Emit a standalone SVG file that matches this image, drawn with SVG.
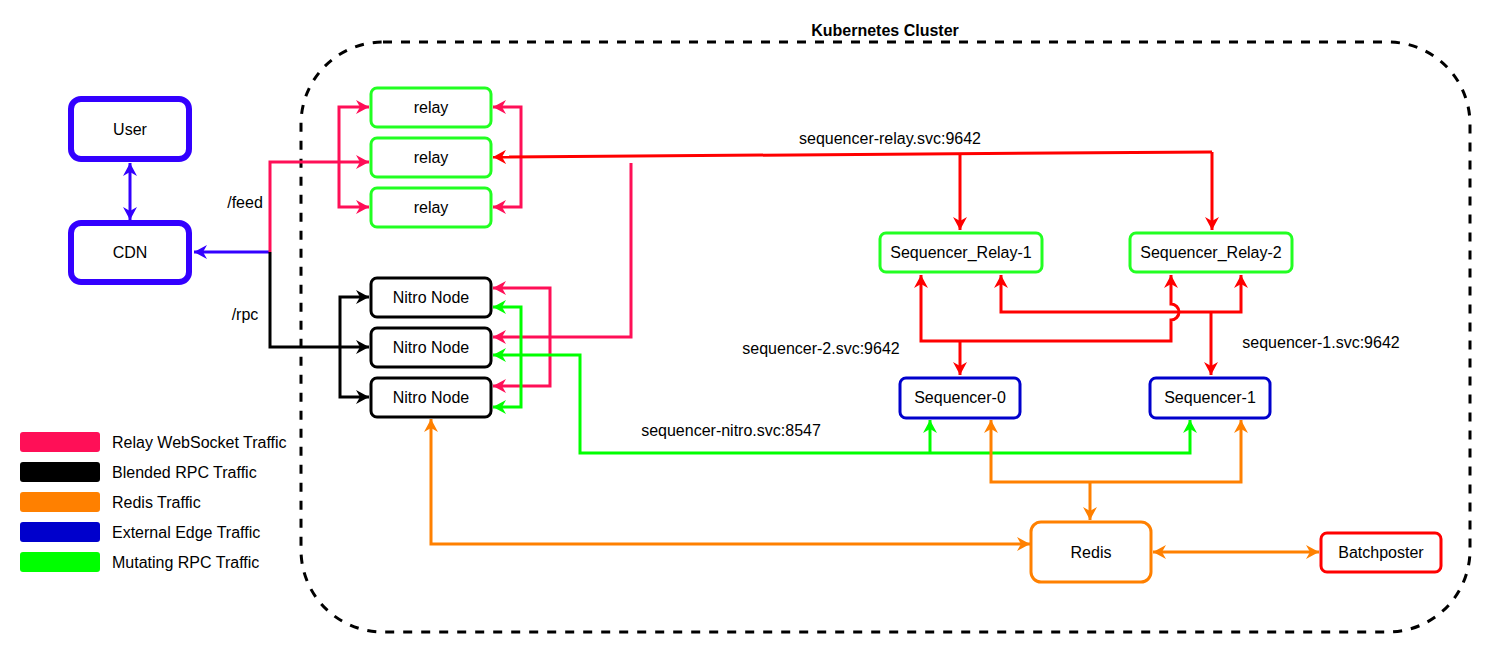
<svg xmlns="http://www.w3.org/2000/svg" width="1492" height="654" viewBox="0 0 1492 654">
<style>
text{font-family:"Liberation Sans",Arial,sans-serif;font-size:16px;fill:#000;text-anchor:middle;dominant-baseline:central}
.l{text-anchor:start}
.b{fill:#fff;stroke-width:3}
.e{fill:none;stroke-width:3;stroke-linejoin:miter}
.pk{stroke:#FF0F57}.rd{stroke:#FF0000}.bk{stroke:#000}.gr{stroke:#00FF00}.or{stroke:#FF8000}.bl{stroke:#3300FF}
</style>
<defs>
<marker id="mpk" viewBox="0 0 13 14" refX="13" refY="7" markerWidth="13" markerHeight="14" markerUnits="userSpaceOnUse" orient="auto-start-reverse"><path d="M0,0 L13,7 L0,14 L4,7 Z" fill="#FF0F57"/></marker>
<marker id="mrd" viewBox="0 0 13 14" refX="13" refY="7" markerWidth="13" markerHeight="14" markerUnits="userSpaceOnUse" orient="auto-start-reverse"><path d="M0,0 L13,7 L0,14 L4,7 Z" fill="#FF0000"/></marker>
<marker id="mbk" viewBox="0 0 13 14" refX="13" refY="7" markerWidth="13" markerHeight="14" markerUnits="userSpaceOnUse" orient="auto-start-reverse"><path d="M0,0 L13,7 L0,14 L4,7 Z" fill="#000"/></marker>
<marker id="mgr" viewBox="0 0 13 14" refX="13" refY="7" markerWidth="13" markerHeight="14" markerUnits="userSpaceOnUse" orient="auto-start-reverse"><path d="M0,0 L13,7 L0,14 L4,7 Z" fill="#00FF00"/></marker>
<marker id="mor" viewBox="0 0 13 14" refX="13" refY="7" markerWidth="13" markerHeight="14" markerUnits="userSpaceOnUse" orient="auto-start-reverse"><path d="M0,0 L13,7 L0,14 L4,7 Z" fill="#FF8000"/></marker>
<marker id="mbl" viewBox="0 0 13 14" refX="13" refY="7" markerWidth="13" markerHeight="14" markerUnits="userSpaceOnUse" orient="auto-start-reverse"><path d="M0,0 L13,7 L0,14 L4,7 Z" fill="#3300FF"/></marker>
</defs>
<rect width="1492" height="654" fill="#fff"/>

<g id="cluster">
<rect x="301" y="42" width="1169" height="590" rx="82" fill="none" stroke="#000" stroke-width="3" stroke-dasharray="9 9"/>
<text x="885" y="30" font-weight="bold">Kubernetes Cluster</text>
</g>

<g id="connectors">
<path class="e bl" d="M130,163 L130,220" marker-start="url(#mbl)" marker-end="url(#mbl)"/>
<path class="e bl" d="M270,252 L194,252" marker-end="url(#mbl)"/>
<path class="e pk" d="M270,252 L270,162 L369,162" marker-end="url(#mpk)"/>
<path class="e pk" d="M339,162 L339,107 L369,107" marker-end="url(#mpk)"/>
<path class="e pk" d="M339,162 L339,207 L369,207" marker-end="url(#mpk)"/>
<path class="e pk" d="M521,157 L521,107 L493,107" marker-end="url(#mpk)"/>
<path class="e pk" d="M521,157 L521,207 L493,207" marker-end="url(#mpk)"/>
<path class="e pk" d="M631,163 L631,337 L493,337" marker-end="url(#mpk)"/>
<path class="e pk" d="M550,337 L550,288 L493,288" marker-end="url(#mpk)"/>
<path class="e pk" d="M550,337 L550,386 L493,386" marker-end="url(#mpk)"/>
<path class="e bk" d="M270,252 L270,347 L369,347" marker-end="url(#mbk)"/>
<path class="e bk" d="M340,347 L340,297 L369,297" marker-end="url(#mbk)"/>
<path class="e bk" d="M340,347 L340,397 L369,397" marker-end="url(#mbk)"/>
<path class="e gr" d="M930,453 L580,453 L580,355 L493,355" marker-end="url(#mgr)"/>
<path class="e gr" d="M521,355 L521,307 L493,307" marker-end="url(#mgr)"/>
<path class="e gr" d="M521,355 L521,407 L493,407" marker-end="url(#mgr)"/>
<path class="e gr" d="M930,453 L930,420" marker-end="url(#mgr)"/>
<path class="e gr" d="M930,453 L1190,453 L1190,420" marker-end="url(#mgr)"/>
<path class="e rd" d="M1212,152 L493,157" marker-end="url(#mrd)"/>
<path class="e rd" d="M1212,152 L1212,230" marker-end="url(#mrd)"/>
<path class="e rd" d="M960,154 L960,230" marker-end="url(#mrd)"/>
<path class="e rd" d="M921,275 L921,341 L1171,341 L1171,320 A8,8 0 0 0 1171,304 L1171,275" marker-start="url(#mrd)" marker-end="url(#mrd)"/>
<path class="e rd" d="M960,341 L960,375" marker-end="url(#mrd)"/>
<path class="e rd" d="M1001,275 L1001,312 L1241,312 L1241,275" marker-start="url(#mrd)" marker-end="url(#mrd)"/>
<path class="e rd" d="M1211,312 L1211,375" marker-end="url(#mrd)"/>
<path class="e or" d="M431,419 L431,544 L1030,544" marker-start="url(#mor)" marker-end="url(#mor)"/>
<path class="e or" d="M991,420 L991,482 L1241,482 L1241,420" marker-start="url(#mor)" marker-end="url(#mor)"/>
<path class="e or" d="M1090,482 L1090,520" marker-end="url(#mor)"/>
<path class="e or" d="M1153,552 L1319,552" marker-start="url(#mor)" marker-end="url(#mor)"/>
<text x="245" y="202">/feed</text>
<text x="245" y="314">/rpc</text>
<text x="890" y="138">sequencer-relay.svc:9642</text>
<text x="821" y="348">sequencer-2.svc:9642</text>
<text x="1321" y="342">sequencer-1.svc:9642</text>
<text x="731" y="430">sequencer-nitro.svc:8547</text>
</g>

<g id="user"><rect x="71" y="99" width="118" height="60" rx="10" fill="#fff" stroke="#3300FF" stroke-width="6"/><text x="130" y="129">User</text></g>
<g id="cdn"><rect x="71" y="223" width="118" height="59" rx="10" fill="#fff" stroke="#3300FF" stroke-width="6"/><text x="130" y="252">CDN</text></g>

<g id="relay1"><rect class="b" x="371" y="88" width="120" height="39" rx="6" stroke="#22FF22"/><text x="431" y="107">relay</text></g>
<g id="relay2"><rect class="b" x="371" y="138" width="120" height="39" rx="6" stroke="#22FF22"/><text x="431" y="157">relay</text></g>
<g id="relay3"><rect class="b" x="371" y="188" width="120" height="39" rx="6" stroke="#22FF22"/><text x="431" y="207">relay</text></g>

<g id="nitro1"><rect class="b" x="371" y="278" width="120" height="39" rx="6" stroke="#000"/><text x="431" y="297">Nitro Node</text></g>
<g id="nitro2"><rect class="b" x="371" y="328" width="120" height="39" rx="6" stroke="#000"/><text x="431" y="347">Nitro Node</text></g>
<g id="nitro3"><rect class="b" x="371" y="378" width="120" height="39" rx="6" stroke="#000"/><text x="431" y="397">Nitro Node</text></g>

<g id="seqrelay1"><rect class="b" x="880" y="233" width="162" height="39" rx="6" stroke="#22FF22"/><text x="961" y="252">Sequencer_Relay-1</text></g>
<g id="seqrelay2"><rect class="b" x="1130" y="233" width="162" height="39" rx="6" stroke="#22FF22"/><text x="1211" y="252">Sequencer_Relay-2</text></g>

<g id="seq0"><rect class="b" x="900" y="378" width="120" height="40" rx="6" stroke="#0000CC"/><text x="960" y="397">Sequencer-0</text></g>
<g id="seq1"><rect class="b" x="1150" y="378" width="120" height="40" rx="6" stroke="#0000CC"/><text x="1210" y="397">Sequencer-1</text></g>

<g id="redis"><rect class="b" x="1031" y="522" width="120" height="60" rx="10" stroke="#FF8000"/><text x="1091" y="552">Redis</text></g>
<g id="batchposter"><rect class="b" x="1321" y="533" width="120" height="39" rx="6" stroke="#FF0000"/><text x="1381" y="552">Batchposter</text></g>

<g id="legend">
<rect x="20" y="432" width="80" height="20" rx="3" fill="#FF0F57"/><text class="l" x="112" y="442">Relay WebSocket Traffic</text>
<rect x="20" y="462" width="80" height="20" rx="3" fill="#000"/><text class="l" x="112" y="472">Blended RPC Traffic</text>
<rect x="20" y="492" width="80" height="20" rx="3" fill="#FF8000"/><text class="l" x="112" y="502">Redis Traffic</text>
<rect x="20" y="522" width="80" height="20" rx="3" fill="#0000CC"/><text class="l" x="112" y="532">External Edge Traffic</text>
<rect x="20" y="552" width="80" height="20" rx="3" fill="#00FF00"/><text class="l" x="112" y="562">Mutating RPC Traffic</text>
</g>
</svg>
